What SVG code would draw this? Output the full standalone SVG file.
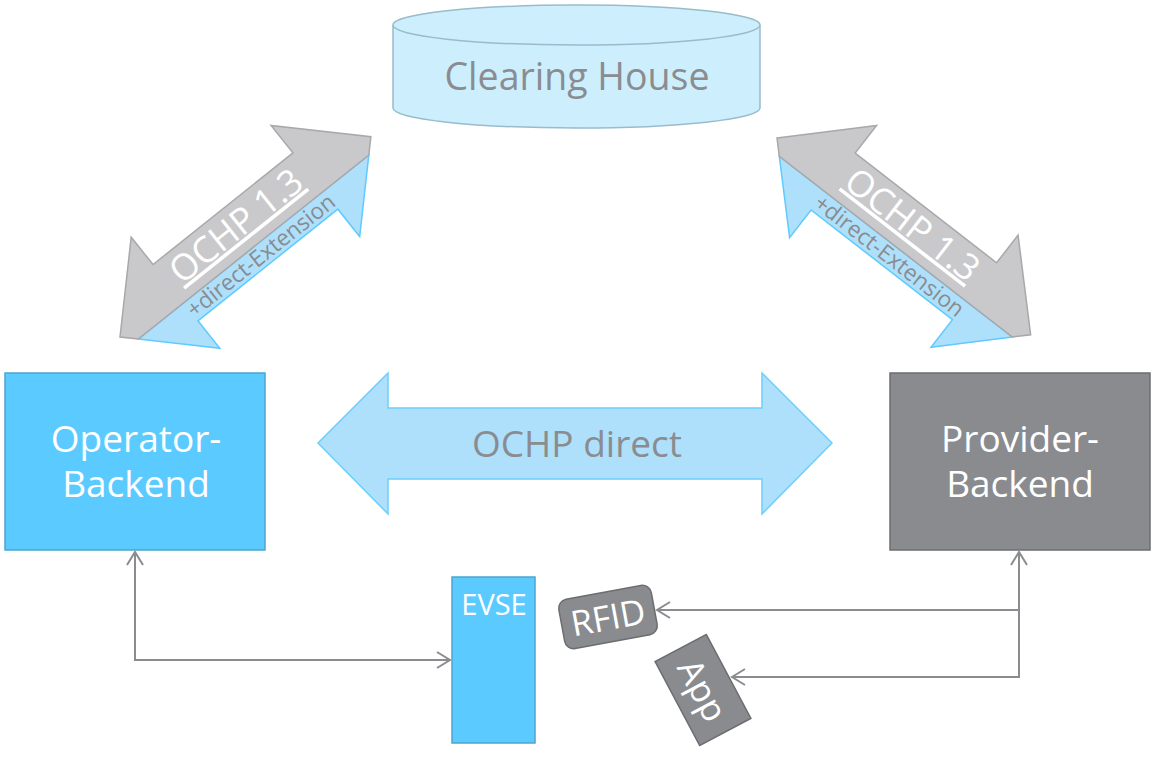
<svg xmlns="http://www.w3.org/2000/svg" width="1164" height="776" viewBox="0 0 1164 776">
<style>
text{font-family:"Open Sans","Liberation Sans",sans-serif;font-weight:400}
.gr{fill:#c9c9cb;stroke:#a8a8ab;stroke-width:1.5;stroke-linejoin:miter}
.bl{fill:#aee0fc;stroke:#5ccbff;stroke-width:1.5}
.conn{fill:none;stroke:#8a8c90;stroke-width:2}
.w{fill:#ffffff}
.g{fill:#8a8c90}
</style>
<defs>
<marker id="chev" viewBox="0 0 16 18" refX="14" refY="9" markerWidth="16" markerHeight="18" markerUnits="userSpaceOnUse" orient="auto-start-reverse">
<path d="M1,1 L14,9 L1,17" fill="none" stroke="#8a8c90" stroke-width="2"/>
</marker>
</defs>
<rect width="1164" height="776" fill="#ffffff"/>
<g id="clearing-house">
<path d="M393,25 L393,108 A183.5,20 0 0 0 760,108 L760,25" fill="#cdeffd" stroke="#98bccb" stroke-width="1.5"/>
<ellipse cx="576.5" cy="25" rx="183.5" ry="20" fill="#cdeffd" stroke="#98bccb" stroke-width="1.5"/>
<text x="577" y="90" font-size="37.5" text-anchor="middle" class="g">Clearing House</text>
</g>
<g id="link-left">
<g transform="translate(120,337) rotate(-38.6)">
<polygon class="bl" points="13,13 308,13 250,71 250,36 71,36 71,71"/>
<polygon class="gr" points="0,0 71,-71 71,-36 250,-36 250,-71 321,0 308,13 13,13"/>
<text x="160" y="-2" font-size="36" text-anchor="middle" class="w" text-decoration="underline">OCHP 1.3</text>
<text x="161" y="32" font-size="22.5" text-anchor="middle" class="g">+direct-Extension</text>
</g>
</g>
<g id="link-right">
<g transform="translate(777,138) rotate(37.8)">
<polygon class="bl" points="13,13 308,13 250,71 250,36 71,36 71,71"/>
<polygon class="gr" points="0,0 71,-71 71,-36 250,-36 250,-71 321,0 308,13 13,13"/>
<text x="160" y="-2" font-size="36" text-anchor="middle" class="w" text-decoration="underline">OCHP 1.3</text>
<text x="161" y="32" font-size="22.5" text-anchor="middle" class="g">+direct-Extension</text>
</g>
</g>
<g id="ochp-direct">
<polygon points="318,443 388,373 388,408 762,408 762,373 832,443 762,514 762,479 388,479 388,514" fill="#aee0fc" stroke="#6ccffb" stroke-width="1.5"/>
<text x="577" y="457" font-size="37" text-anchor="middle" class="g">OCHP direct</text>
</g>
<g id="operator-backend">
<rect x="5" y="373" width="260" height="177" fill="#5bcbff" stroke="#4ea5cf" stroke-width="1.5"/>
<text font-size="37" text-anchor="middle" class="w"><tspan x="136" y="452">Operator-</tspan><tspan x="136" y="497">Backend</tspan></text>
</g>
<g id="provider-backend">
<rect x="890" y="373" width="260" height="177" fill="#898b8f" stroke="#6b6d70" stroke-width="1.5"/>
<text font-size="37" text-anchor="middle" class="w"><tspan x="1020" y="452">Provider-</tspan><tspan x="1020" y="497">Backend</tspan></text>
</g>
<g id="evse">
<rect x="452" y="577" width="83" height="166" fill="#5bcbff" stroke="#4ea5cf" stroke-width="1.5"/>
<text x="494" y="615" font-size="29" text-anchor="middle" class="w">EVSE</text>
</g>
<g id="rfid">
<g transform="translate(608,617) rotate(-10.5)">
<rect x="-47" y="-25" width="94" height="50" rx="9" fill="#898b8f" stroke="#6b6d70" stroke-width="1.5"/>
<text x="0" y="13" font-size="35" text-anchor="middle" class="w">RFID</text>
</g>
</g>
<g id="app">
<g transform="translate(703,690) rotate(62)">
<rect x="-47.5" y="-29" width="95" height="58" fill="#898b8f" stroke="#6b6d70" stroke-width="1.5"/>
<text x="0" y="13" font-size="35" text-anchor="middle" class="w">App</text>
</g>
</g>
<g id="connectors">
<path class="conn" d="M135,552 V660 H450" marker-start="url(#chev)" marker-end="url(#chev)"/>
<path class="conn" d="M1019,552 V677 H732" marker-start="url(#chev)" marker-end="url(#chev)"/>
<path class="conn" d="M1019,610 H657" marker-end="url(#chev)"/>
</g>
</svg>
